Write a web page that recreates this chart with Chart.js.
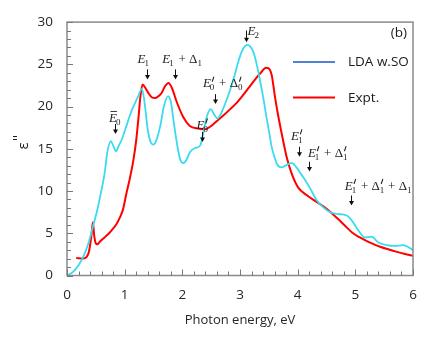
<!DOCTYPE html>
<html><head><meta charset="utf-8">
<script src="https://cdn.jsdelivr.net/npm/chart.js@4/dist/chart.umd.min.js"></script>
<style>html,body{margin:0;padding:0;background:#fff}#wrap{width:447px;height:338px}</style>
</head><body><div id="wrap"><canvas id="c" width="447" height="338"></canvas></div>
<script>
// ---- data ----
const seriesNames = ['LDA w.SO', 'Expt.'];
const ldaX = [0,0.1,0.2,0.3,0.38,0.45,0.52,0.6,0.65,0.7,0.76,0.8,0.85,0.9,0.95,1.02,1.12,1.22,1.30,1.35,1.40,1.45,1.50,1.56,1.62,1.68,1.75,1.80,1.85,1.90,1.96,2.02,2.08,2.13,2.22,2.31,2.36,2.42,2.49,2.55,2.61,2.68,2.74,2.83,2.91,2.97,3.03,3.08,3.13,3.18,3.23,3.29,3.35,3.41,3.46,3.51,3.55,3.60,3.64,3.72,3.81,3.90,3.98,4.04,4.10,4.21,4.33,4.44,4.56,4.68,4.85,4.94,5.05,5.17,5.28,5.40,5.54,5.69,5.83,6.0];
const ldaY = [0,0.4,1.2,2.5,4.0,5.8,7.6,10.2,12.0,14.6,15.9,15.4,14.7,15.4,16.1,17.5,19.5,21.0,22.1,20.2,17.3,15.8,15.5,16.2,17.8,20.0,21.2,20.6,18.2,15.9,13.8,13.3,13.8,14.6,15.1,15.4,16.7,18.7,19.7,19.1,18.6,19.3,20.3,22.0,23.8,25.3,26.5,27.1,27.3,27.1,26.5,25.0,23.0,20.8,18.7,16.8,15.2,14.0,13.2,12.8,13.1,13.3,12.8,12.2,11.6,10.4,8.9,8.1,7.5,7.3,7.1,6.5,5.35,4.5,4.6,3.9,3.6,3.5,3.6,3.0];
const exptX = [0.16,0.28,0.34,0.38,0.42,0.45,0.47,0.50,0.53,0.57,0.65,0.75,0.85,0.92,0.97,1.03,1.09,1.15,1.20,1.24,1.27,1.31,1.36,1.41,1.47,1.53,1.58,1.64,1.70,1.76,1.82,1.90,2.02,2.13,2.28,2.39,2.50,2.60,2.72,2.83,2.95,3.06,3.16,3.26,3.36,3.45,3.50,3.55,3.61,3.66,3.72,3.81,3.90,4.01,4.16,4.33,4.50,4.62,4.73,4.85,4.96,5.08,5.20,5.32,5.43,5.57,5.72,5.86,6.0];
const exptY = [2.06,2.0,2.2,2.8,4.5,6.3,4.8,3.8,3.7,4.0,4.5,5.15,6.0,6.9,7.8,9.7,11.5,13.6,16.0,18.7,21.0,22.6,22.2,21.6,21.1,21.0,21.2,21.6,22.4,22.8,22.2,20.6,18.7,17.7,17.4,17.3,17.7,18.3,19.0,19.7,20.5,21.4,22.3,23.2,24.0,24.6,24.5,23.7,21.0,19.0,16.9,14.0,12.0,10.4,9.5,8.7,7.9,7.2,6.5,5.7,5.0,4.5,4.06,3.7,3.4,3.1,2.8,2.55,2.33];
const xTickValues = [0,1,2,3,4,5,6];
const yTickValues = [0,5,10,15,20,25,30];
const xTitle = 'Photon energy, eV';
const yTitle = 'ε';
const panelLabel = '(b)';

// annotation labels: tokens; positions in data units (text centre, arrow top, arrow tip)
const annLabels = [
  [{b:'E',bar:true,sub:'0'}],
  [{b:'E',sub:'1'}],
  [{b:'E',sub:'1'},{t:' + '},{b:'Δ',up:true,sub:'1'}],
  [{b:'E',sup:'′',sub:'0'},{t:' + '},{b:'Δ',up:true,sup:'′',sub:'0'}],
  [{b:'E',sup:'′',sub:'0'}],
  [{b:'E',sub:'2'}],
  [{b:'E',sup:'′',sub:'1'}],
  [{b:'E',sup:'′',sub:'1'},{t:' + '},{b:'Δ',up:true,sup:'′',sub:'1'}],
  [{b:'E',sup:'′',sub:'1'},{t:' + '},{b:'Δ',up:true,sup:'′',sub:'1'},{t:' + '},{b:'Δ',up:true,sub:'1'}]
];
const annTextX = [0.84,1.335,2.0,2.705,2.358,3.243,3.997,4.526,5.40];
const annTextY = [18.65,25.6,25.6,22.76,17.82,28.9,16.53,14.53,10.65];
const annArrowX = [0.83,1.387,1.873,2.566,2.34,3.112,4.023,4.196,4.925];
const annArrowTop = [17.94,24.4,24.4,21.47,17.0,29.0,15.24,13.47,9.47];
const annArrowTip = [16.76,23.2,23.2,20.3,15.8,27.6,14.06,12.3,8.29];

// ---- helpers ----
const SERIF = '"Liberation Serif", "DejaVu Serif", serif';
function tokenWidth(ctx, tk){
  if (tk.t){ ctx.font = '13px '+SERIF; return ctx.measureText(tk.t).width; }
  ctx.font = (tk.up?'':'italic ')+'13px '+SERIF;
  let w = ctx.measureText(tk.b).width;
  ctx.font = '9px '+SERIF;
  let s = 0;
  if (tk.sub) s = Math.max(s, ctx.measureText(tk.sub).width);
  if (tk.sup) s = Math.max(s, 4);
  return w + s + (s?0.5:0);
}
function drawPrime(ctx, x, y){
  // small slanted prime stroke
  ctx.save(); ctx.lineWidth = 1.1; ctx.lineCap='round';
  ctx.beginPath(); ctx.moveTo(x+2.6, y-4.2); ctx.lineTo(x+1.2, y); ctx.stroke();
  ctx.restore();
}
function drawRich(ctx, tokens, cx, cy){
  let total = 0; tokens.forEach(t=> total += tokenWidth(ctx,t));
  let x = cx - total/2;
  ctx.fillStyle = '#222'; ctx.strokeStyle='#222';
  ctx.textBaseline = 'alphabetic'; ctx.textAlign='left';
  const base = cy + 4;
  tokens.forEach(tk=>{
    const w = tokenWidth(ctx, tk);
    if (tk.t){ ctx.font='13px '+SERIF; ctx.fillText(tk.t, x, base); x += w; return; }
    ctx.font = (tk.up?'':'italic ')+'13px '+SERIF;
    ctx.fillText(tk.b, x, base);
    const bw = ctx.measureText(tk.b).width;
    if (tk.bar){ ctx.lineWidth=0.9; ctx.beginPath(); ctx.moveTo(x+1.5, base-10.5); ctx.lineTo(x+bw, base-10.5); ctx.stroke(); }
    ctx.font = '9px '+SERIF;
    if (tk.sup) drawPrime(ctx, x+bw+0.3, base-6);
    if (tk.sub) ctx.fillText(tk.sub, x+bw-(tk.up?0:1), base+3);
    x += w;
  });
}

const decor = {
  id:'decor',
  afterDatasetsDraw(chart){
    const ctx = chart.ctx, xa = chart.scales.x, ya = chart.scales.y, ca = chart.chartArea;
    ctx.save();
    // frame
    ctx.strokeStyle = '#8a8a8a'; ctx.lineWidth = 1.5;
    ctx.strokeRect(ca.left, ca.top, ca.right-ca.left, ca.bottom-ca.top);
    // inside ticks
    ctx.strokeStyle = '#777'; ctx.lineWidth = 1;
    for (let i=0;i<=30;i++){
      const v = i*0.2; const px = Math.round(xa.getPixelForValue(v))+0.5;
      const len = (i%5===0)?6:4;
      ctx.beginPath(); ctx.moveTo(px, ca.bottom); ctx.lineTo(px, ca.bottom-len); ctx.stroke();
    }
    for (let v=0; v<=30; v++){
      const py = Math.round(ya.getPixelForValue(v))+0.5;
      const len = (v%5===0)?6:4;
      ctx.beginPath(); ctx.moveTo(ca.left, py); ctx.lineTo(ca.left+len, py); ctx.stroke();
    }
    // annotations
    annLabels.forEach((tokens,i)=>{
      drawRich(ctx, tokens, xa.getPixelForValue(annTextX[i]), ya.getPixelForValue(annTextY[i]));
      const ax = Math.round(xa.getPixelForValue(annArrowX[i]))+0.5;
      const y0 = ya.getPixelForValue(annArrowTop[i]), y1 = ya.getPixelForValue(annArrowTip[i]);
      ctx.strokeStyle='#111'; ctx.fillStyle='#111'; ctx.lineWidth=1;
      ctx.beginPath(); ctx.moveTo(ax,y0); ctx.lineTo(ax,y1-3); ctx.stroke();
      ctx.beginPath(); ctx.moveTo(ax-2.5,y1-4.5); ctx.lineTo(ax+2.5,y1-4.5); ctx.lineTo(ax,y1); ctx.closePath(); ctx.fill();
    });
    // legend
    const ds = chart.data.datasets;
    const legY = [62, 97.5];
    ds.forEach((d,i)=>{
      ctx.strokeStyle = d.legendColor; ctx.lineWidth = 2;
      ctx.beginPath(); ctx.moveTo(293, legY[i]); ctx.lineTo(335, legY[i]); ctx.stroke();
      ctx.fillStyle = '#1a1a1a'; ctx.font = '13.5px "Open Sans"'; ctx.textBaseline='middle'; ctx.textAlign='left';
      ctx.fillText(d.label, 348, legY[i]+0.5);
    });
    ctx.textAlign='right'; ctx.fillText(panelLabel, 407, 33);
    // y title
    ctx.translate(24, 146); ctx.rotate(-Math.PI/2);
    ctx.textAlign='center'; ctx.textBaseline='middle'; ctx.font='15px "Open Sans"';
    ctx.fillText(yTitle, 0, 0);
    ctx.strokeStyle='#1a1a1a'; ctx.lineWidth=1.1;
    ctx.beginPath(); ctx.moveTo(6.5,-11); ctx.lineTo(6.5,-7); ctx.moveTo(9.5,-11); ctx.lineTo(9.5,-7); ctx.stroke();
    ctx.restore();
  }
};

const toPts = (xs, ys) => xs.map((x,i)=>({x, y: ys[i]}));

new Chart(document.getElementById('c'), {
  type: 'line',
  data: { datasets: [
    { label: seriesNames[0], data: toPts(ldaX, ldaY), borderColor: '#3ADBEF', legendColor: '#4F82D2', borderWidth: 1.8, pointRadius: 0, cubicInterpolationMode: 'monotone', fill:false },
    { label: seriesNames[1], data: toPts(exptX, exptY), borderColor: '#FF0000', legendColor: '#FF0000', borderWidth: 2, pointRadius: 0, cubicInterpolationMode: 'monotone', fill:false }
  ]},
  options: {
    responsive: false, animation: false, devicePixelRatio: 1,
    layout: { padding: { top: 20, right: 34, left: 0, bottom: 0 } },
    plugins: { legend: { display: false }, tooltip: { enabled: false } },
    scales: {
      x: { type: 'linear', min: 0, max: 6,
        afterBuildTicks: s => { s.ticks = xTickValues.map(v=>({value:v})); },
        afterFit: s => { s.height = 62.5; },
        ticks: { padding: 12, color: '#262626', font: { family: 'Open Sans', size: 13.5 } },
        grid: { display: false, drawTicks: false }, border: { display: false },
        title: { display: true, text: xTitle, color: '#262626', font: { family: 'Open Sans', size: 13 }, padding: { top: 0, bottom: 10 } } },
      y: { min: 0, max: 30,
        afterBuildTicks: s => { s.ticks = yTickValues.map(v=>({value:v})); },
        afterFit: s => { s.width = 67; },
        ticks: { padding: 14, color: '#262626', font: { family: 'Open Sans', size: 13.5 } },
        grid: { display: false, drawTicks: false }, border: { display: false } }
    }
  },
  plugins: [decor]
});
</script></body></html>
